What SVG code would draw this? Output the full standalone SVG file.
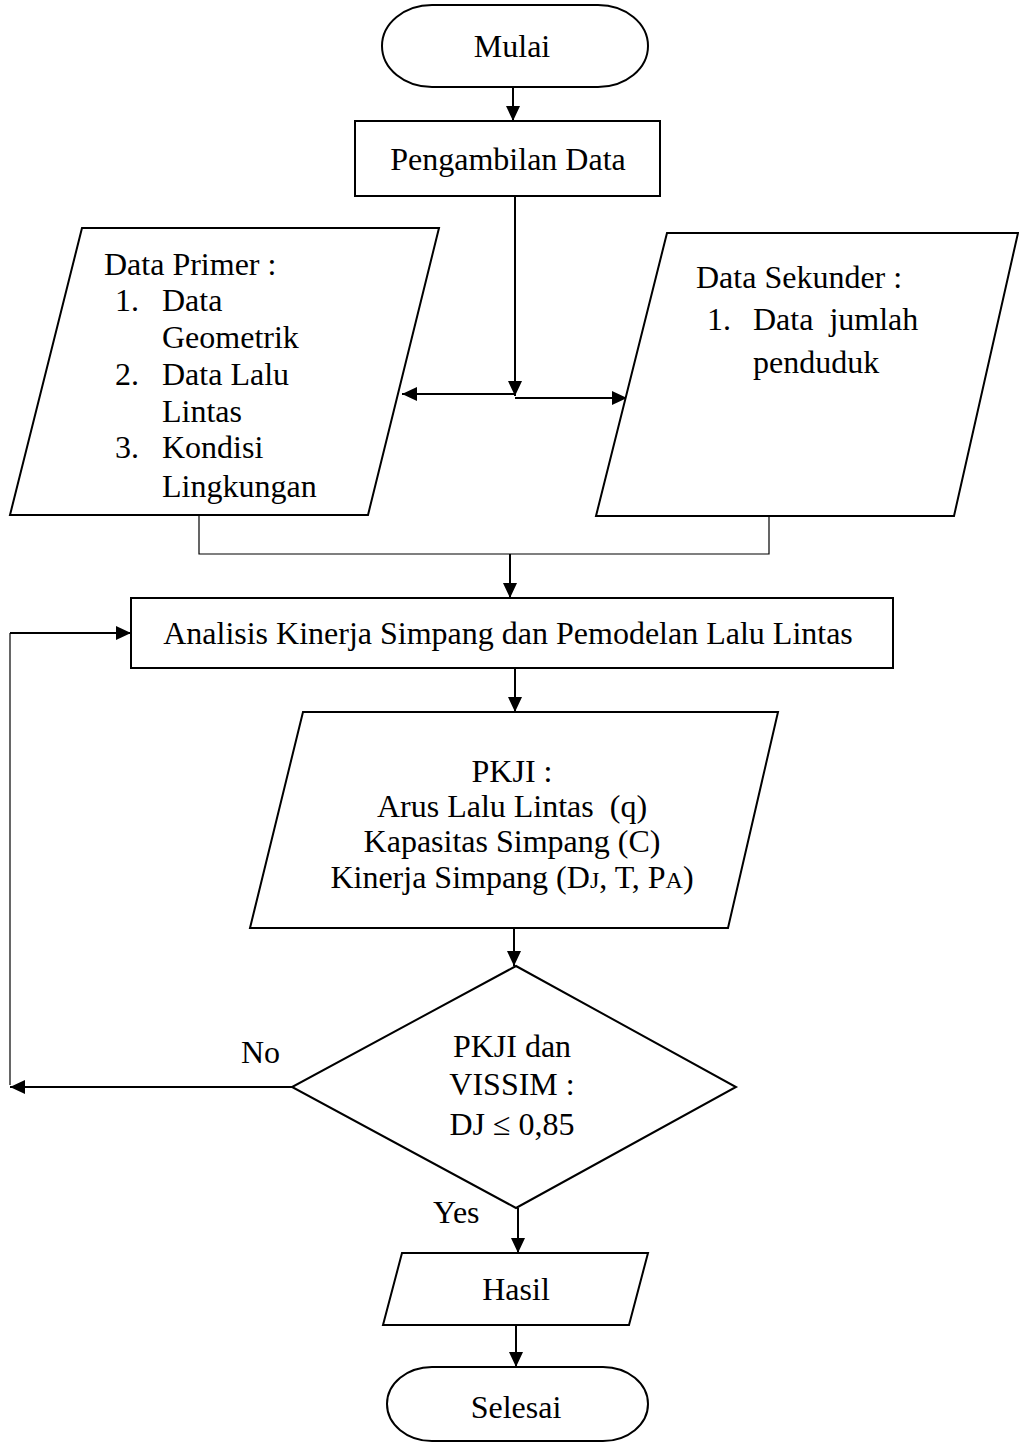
<svg xmlns="http://www.w3.org/2000/svg" width="1019" height="1443" viewBox="0 0 1019 1443">
<style>
.s{fill:#fff;stroke:#000;stroke-width:2}
.t{font-family:"Liberation Serif","Times New Roman",serif;font-size:32px;fill:#000}
.c{stroke:#000;stroke-width:2;fill:none}
.thin{stroke:#000;stroke-width:1.2;fill:none}
</style>
<defs>
<marker id="ah" markerUnits="userSpaceOnUse" markerWidth="16" markerHeight="14" refX="15" refY="7" orient="auto">
<path d="M0,0 L15,7 L0,14 z" fill="#000"/>
</marker>
</defs>
<rect width="1019" height="1443" fill="#fff"/>
<g id="connectors">
<path class="c" d="M513,87 L513,121" marker-end="url(#ah)"/>
<path class="c" d="M515,196 L515,396" marker-end="url(#ah)"/>
<path class="c" d="M515,394 L402,394" marker-end="url(#ah)"/>
<path class="c" d="M515,398 L627,398" marker-end="url(#ah)"/>
<path class="thin" d="M199,515 L199,554 L769,554 L769,516"/>
<path class="c" d="M510,554 L510,598" marker-end="url(#ah)"/>
<path class="thin" d="M10,1085 L10,633"/>
<path class="c" d="M10,633 L131,633" marker-end="url(#ah)"/>
<path class="c" d="M515,668 L515,712" marker-end="url(#ah)"/>
<path class="c" d="M514,928 L514,966" marker-end="url(#ah)"/>
<path class="c" d="M292,1087 L10,1087" marker-end="url(#ah)"/>
<path class="c" d="M518,1208 L518,1253" marker-end="url(#ah)"/>
<path class="c" d="M516,1325 L516,1367" marker-end="url(#ah)"/>
</g>
<g id="mulai">
<rect class="s" x="382" y="5" width="266" height="82" rx="50" ry="41"/>
<text class="t" x="512" y="57" text-anchor="middle">Mulai</text>
</g>
<g id="pengambilan">
<rect class="s" x="355" y="121" width="305" height="75"/>
<text class="t" x="508" y="170" text-anchor="middle">Pengambilan Data</text>
</g>
<g id="data-primer">
<polygon class="s" points="82,228 439,228 368,515 10,515"/>
<text class="t" x="104" y="275">Data Primer :</text>
<text class="t" x="115" y="311">1.</text>
<text class="t" x="162" y="311">Data</text>
<text class="t" x="162" y="348">Geometrik</text>
<text class="t" x="115" y="385">2.</text>
<text class="t" x="162" y="385">Data Lalu</text>
<text class="t" x="162" y="422">Lintas</text>
<text class="t" x="115" y="458">3.</text>
<text class="t" x="162" y="458">Kondisi</text>
<text class="t" x="162" y="497">Lingkungan</text>
</g>
<g id="data-sekunder">
<polygon class="s" points="667,233 1018,233 954,516 596,516"/>
<text class="t" x="696" y="288">Data Sekunder :</text>
<text class="t" x="707" y="330">1.</text>
<text class="t" x="753" y="330" xml:space="preserve">Data  jumlah</text>
<text class="t" x="753" y="373">penduduk</text>
</g>
<g id="analisis">
<rect class="s" x="131" y="598" width="762" height="70"/>
<text class="t" x="508" y="644" text-anchor="middle">Analisis Kinerja Simpang dan Pemodelan Lalu Lintas</text>
</g>
<g id="pkji">
<polygon class="s" points="303,712 778,712 728,928 250,928"/>
<text class="t" x="512" y="782" text-anchor="middle">PKJI :</text>
<text class="t" x="512" y="817" text-anchor="middle" xml:space="preserve">Arus Lalu Lintas  (q)</text>
<text class="t" x="512" y="852" text-anchor="middle">Kapasitas Simpang (C)</text>
<text class="t" x="512" y="888" text-anchor="middle">Kinerja Simpang (D<tspan font-size="24">J</tspan>, T, P<tspan font-size="24">A</tspan>)</text>
</g>
<g id="keputusan">
<polygon class="s" points="516,966 736,1087 516,1208 292,1087"/>
<text class="t" x="512" y="1057" text-anchor="middle">PKJI dan</text>
<text class="t" x="512" y="1095" text-anchor="middle">VISSIM :</text>
<text class="t" x="512" y="1135" text-anchor="middle">DJ ≤ 0,85</text>
<text class="t" x="241" y="1063">No</text>
<text class="t" x="433" y="1223">Yes</text>
</g>
<g id="hasil">
<polygon class="s" points="402,1253 648,1253 629,1325 383,1325"/>
<text class="t" x="516" y="1300" text-anchor="middle">Hasil</text>
<rect class="s" x="387" y="1367" width="261" height="74" rx="45" ry="37"/>
<text class="t" x="516" y="1418" text-anchor="middle">Selesai</text>
</g>
</svg>
